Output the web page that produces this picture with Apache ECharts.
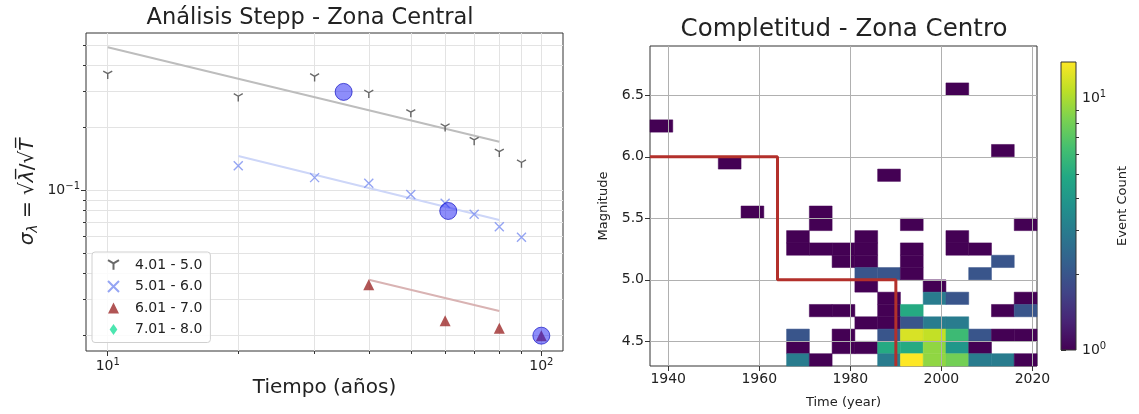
<!DOCTYPE html>
<html><head><meta charset="utf-8">
<script src="https://cdn.jsdelivr.net/npm/echarts@6/dist/echarts.min.js"></script>
<style>html,body{margin:0;padding:0;background:#fff}#c{width:1139px;height:414px}</style>
</head><body><div id="c"></div>
<script>
// ---------- Left panel: Stepp analysis ----------
const rangeNames = ['4.01 - 5.0', '5.01 - 6.0', '6.01 - 7.0', '7.01 - 8.0'];
const tM1 = [10, 20, 30, 40, 50, 60, 70, 80, 90];
const sM1 = [0.358, 0.279, 0.348, 0.290, 0.234, 0.200, 0.172, 0.151, 0.134];
const tM2 = [20, 30, 40, 50, 60, 70, 80, 90];
const sM2 = [0.131, 0.115, 0.108, 0.0953, 0.0866, 0.0767, 0.0668, 0.0594];
const tM3 = [40, 60, 80, 100];
const sM3 = [0.0351, 0.0236, 0.0217, 0.0200];
const tM4 = [];
const sM4 = [];
const fitT1 = [10, 80], fitS1 = [0.487, 0.171];
const fitT2 = [20, 80], fitS2 = [0.146, 0.072];
const fitT3 = [40, 80], fitS3 = [0.0371, 0.0263];
const complT = [35, 61, 100];
const complS = [0.297, 0.0795, 0.0200];
const leftXMajor = [10, 100];
const leftXMinor = [20, 30, 40, 50, 60, 70, 80, 90];
const leftYMajor = [0.1];
const leftYMinor = [0.02, 0.03, 0.04, 0.05, 0.06, 0.07, 0.08, 0.09, 0.2, 0.3, 0.4, 0.5];

// ---------- Right panel: completeness heatmap ----------
// [bin start year, bin start magnitude, event count]
const cells = [
  [1936, 6.2, 1], [1951, 5.9, 1], [1956, 5.5, 1], [1971, 5.5, 1], [1986, 5.8, 1],
  [2001, 6.5, 1], [2011, 6.0, 1],
  [1971, 5.4, 1], [1991, 5.4, 1], [2016, 5.4, 1],
  [1966, 5.3, 1], [1981, 5.3, 1], [2001, 5.3, 1],
  [1966, 5.2, 1], [1971, 5.2, 1], [1976, 5.2, 1], [1981, 5.2, 1], [1991, 5.2, 1], [2001, 5.2, 1], [2006, 5.2, 1],
  [1976, 5.1, 1], [1981, 5.1, 1], [1991, 5.1, 1], [2011, 5.1, 2],
  [1981, 5.0, 2], [1986, 5.0, 2], [1991, 5.0, 1], [2006, 5.0, 2],
  [1981, 4.9, 1], [1996, 4.9, 1],
  [1986, 4.8, 1], [1996, 4.8, 3], [2001, 4.8, 2], [2016, 4.8, 1],
  [1971, 4.7, 1], [1976, 4.7, 1], [1986, 4.7, 1], [1991, 4.7, 5], [2011, 4.7, 1], [2016, 4.7, 2],
  [1981, 4.6, 1], [1986, 4.6, 1], [1991, 4.6, 2], [1996, 4.6, 3], [2001, 4.6, 3],
  [1966, 4.5, 2], [1976, 4.5, 1], [1986, 4.5, 2], [1991, 4.5, 12], [1996, 4.5, 11], [2001, 4.5, 6], [2006, 4.5, 2], [2011, 4.5, 1], [2016, 4.5, 1],
  [1966, 4.4, 1], [1976, 4.4, 1], [1981, 4.4, 1], [1986, 4.4, 5], [1991, 4.4, 5], [1996, 4.4, 9], [2001, 4.4, 4], [2006, 4.4, 1],
  [1966, 4.3, 3], [1971, 4.3, 1], [1986, 4.3, 3], [1991, 4.3, 14], [1996, 4.3, 9], [2001, 4.3, 8], [2006, 4.3, 3], [2011, 4.3, 3], [2016, 4.3, 1]
];
const binYears = 5, binMag = 0.1;
const stepYears = [1936, 1964, 1964, 1990, 1990];
const stepMags = [6.0, 6.0, 5.0, 5.0, 4.3];
const rightXTicks = [1940, 1960, 1980, 2000, 2020];
const rightYTicks = [4.5, 5.0, 5.5, 6.0, 6.5];
const cbarMajor = [1, 10];
const cbarMinor = [2, 3, 4, 5, 6, 7, 8, 9];

// ---------- styling ----------
const FONT = 'DejaVu Sans';
const viridis = ['#440154', '#482475', '#414487', '#355f8d', '#2a788e', '#21918c', '#22a884', '#44bf70', '#7ad151', '#bddf26', '#fde725'];
const countMax = Math.max(...cells.map(c => c[2]));
const pairs = (xs, ys) => xs.map((x, i) => [x, ys[i]]);
const supRich = { sup: { fontSize: 10, fontFamily: FONT, color: '#222', padding: [0, 0, 8, 0] } };
const yPath = 'path://M50,50 L50,100 M50,50 L6.7,25 M50,50 L93.3,25';
const xPath = 'path://M0,0 L100,100 M100,0 L0,100';

const chart = echarts.init(document.getElementById('c'), null, { renderer: 'canvas' });

const gridLeft = { left: 86, top: 33, width: 477, height: 318, show: true, borderColor: '#333', borderWidth: 1 };
const gridHeat = { left: 650, top: 46, width: 387, height: 320, show: true, borderColor: '#333', borderWidth: 1 };
const gridCbar = { left: 1061, top: 62, width: 15, height: 288 };

const LX = { min: 8.91, max: 112.2 };
const LY = { min: 0.01688, max: 0.570 };

const option = {
  animation: false,
  backgroundColor: '#fff',
  textStyle: { fontFamily: FONT },
  grid: [gridLeft, gridHeat, gridCbar],
  graphic: [
    { type: 'text', x: 310, y: 18, style: { text: 'Análisis Stepp - Zona Central', font: '22.5px "DejaVu Sans"', fill: '#222', align: 'center', verticalAlign: 'middle' } },
    { type: 'text', x: 844, y: 30, style: { text: 'Completitud - Zona Centro', font: '24.5px "DejaVu Sans"', fill: '#222', align: 'center', verticalAlign: 'middle' } }
  ],
  legend: {
    data: rangeNames,
    orient: 'vertical', left: 92, top: 252,
    padding: [6, 8, 6, 15], itemGap: 7.5, itemWidth: 11, itemHeight: 11,
    backgroundColor: 'rgba(255,255,255,0.85)', borderColor: '#d0d0d0', borderWidth: 1, borderRadius: 3,
    textStyle: { fontSize: 14, fontFamily: FONT, color: '#222', padding: [0, 0, 0, 11] }
  },
  visualMap: {
    show: false, type: 'continuous', seriesIndex: 10, dimension: 3,
    min: 0, max: Math.log10(countMax), inRange: { color: viridis }
  },
  xAxis: [
    { gridIndex: 0, type: 'log', logBase: 10, min: LX.min, max: LX.max, position: 'bottom',
      name: 'Tiempo (años)', nameLocation: 'middle', nameGap: 27,
      nameTextStyle: { fontSize: 20, fontFamily: FONT, color: '#222' },
      axisLine: { show: false },
      axisTick: { customValues: leftXMajor, length: 5, lineStyle: { color: '#333' } },
      axisLabel: { customValues: leftXMajor, margin: 6, fontSize: 14, color: '#222', rich: supRich,
        formatter: v => '10{sup|' + Math.round(Math.log10(v)) + '}' },
      splitLine: { show: false }, minorTick: { show: false } },
    { gridIndex: 0, type: 'log', logBase: 10, min: LX.min, max: LX.max, position: 'bottom',
      axisLine: { show: false }, axisLabel: { show: false }, splitLine: { show: false },
      axisTick: { customValues: leftXMinor, length: 3, lineStyle: { color: '#333' } } },
    { gridIndex: 1, type: 'value', min: 1936, max: 2021,
      name: 'Time (year)', nameLocation: 'middle', nameGap: 30,
      nameTextStyle: { fontSize: 13, fontFamily: FONT, color: '#222' },
      axisLine: { show: false },
      axisTick: { customValues: rightXTicks, length: 5, lineStyle: { color: '#333' } },
      axisLabel: { customValues: rightXTicks, margin: 6, fontSize: 14, color: '#222', formatter: v => String(v) },
      splitLine: { show: false } },
    { gridIndex: 2, type: 'value', min: 0, max: 1, show: false }
  ],
  yAxis: [
    { gridIndex: 0, type: 'log', logBase: 10, min: LY.min, max: LY.max, position: 'left',
      name: '{i|σ}{sub|λ}{t| = √}{i|λ\u0305}{t|/√}{i|T\u0305}', nameLocation: 'middle', nameGap: 46, nameRotate: 90,
      nameTextStyle: { fontSize: 20, fontFamily: FONT, color: '#222',
        rich: {
          i: { fontSize: 20, fontStyle: 'italic', fontFamily: FONT, color: '#222' },
          t: { fontSize: 20, fontFamily: FONT, color: '#222' },
          sub: { fontSize: 14, fontStyle: 'italic', fontFamily: FONT, color: '#222', padding: [10, 0, 0, 0] }
        } },
      axisLine: { show: false },
      axisTick: { customValues: leftYMajor, length: 5, lineStyle: { color: '#333' } },
      axisLabel: { customValues: leftYMajor, margin: 6, fontSize: 14, color: '#222', rich: supRich,
        formatter: v => '10{sup|−' + Math.round(-Math.log10(v)) + '}' },
      splitLine: { show: false } },
    { gridIndex: 0, type: 'log', logBase: 10, min: LY.min, max: LY.max, position: 'left',
      axisLine: { show: false }, axisLabel: { show: false }, splitLine: { show: false },
      axisTick: { customValues: leftYMinor, length: 3, lineStyle: { color: '#333' } } },
    { gridIndex: 1, type: 'value', min: 4.3, max: 6.9,
      name: 'Magnitude', nameLocation: 'middle', nameGap: 40, nameRotate: 90,
      nameTextStyle: { fontSize: 13, fontFamily: FONT, color: '#222' },
      axisLine: { show: false },
      axisTick: { customValues: rightYTicks, length: 5, lineStyle: { color: '#333' } },
      axisLabel: { customValues: rightYTicks, margin: 6, fontSize: 14, color: '#222', formatter: v => v.toFixed(1) },
      splitLine: { show: false } },
    { gridIndex: 2, type: 'log', logBase: 10, min: 1, max: countMax, position: 'right',
      name: 'Event Count', nameLocation: 'middle', nameGap: 40, nameRotate: 90,
      nameTextStyle: { fontSize: 13, fontFamily: FONT, color: '#222' },
      axisLine: { show: false },
      axisTick: { customValues: cbarMajor, length: 5, lineStyle: { color: '#333' } },
      axisLabel: { customValues: cbarMajor, margin: 6, fontSize: 14, color: '#222', rich: supRich,
        formatter: v => '10{sup|' + Math.round(Math.log10(v)) + '}' },
      splitLine: { show: false } },
    { gridIndex: 2, type: 'log', logBase: 10, min: 1, max: countMax, position: 'right',
      axisLine: { show: false }, axisLabel: { show: false }, splitLine: { show: false },
      axisTick: { customValues: cbarMinor, length: 3, lineStyle: { color: '#333' } } }
  ],
  series: [
    // 0: left grid lines
    { type: 'line', name: 'gridL', xAxisIndex: 0, yAxisIndex: 0, data: [], silent: true,
      markLine: { silent: true, z: 1, symbol: ['none', 'none'], label: { show: false },
        lineStyle: { color: '#e3e3e3', width: 1, type: 'solid' }, emphasis: { disabled: true },
        data: leftXMajor.concat(leftXMinor).map(v => ({ xAxis: v }))
          .concat(leftYMajor.concat(leftYMinor).map(v => ({ yAxis: v }))) } },
    // 1-3 fits
    { type: 'line', name: 'fit1', xAxisIndex: 0, yAxisIndex: 0, data: pairs(fitT1, fitS1), symbol: 'none', silent: true, z: 2,
      lineStyle: { color: '#bdbdbd', width: 2 } },
    { type: 'line', name: 'fit2', xAxisIndex: 0, yAxisIndex: 0, data: pairs(fitT2, fitS2), symbol: 'none', silent: true, z: 2,
      lineStyle: { color: '#cdd6f8', width: 2 } },
    { type: 'line', name: 'fit3', xAxisIndex: 0, yAxisIndex: 0, data: pairs(fitT3, fitS3), symbol: 'none', silent: true, z: 2,
      lineStyle: { color: '#d9b3b3', width: 2 } },
    // 4-7 scatter groups
    { type: 'scatter', name: rangeNames[0], xAxisIndex: 0, yAxisIndex: 0, data: pairs(tM1, sM1), z: 3,
      symbol: yPath, symbolSize: 9, symbolKeepAspect: true,
      itemStyle: { color: 'rgba(0,0,0,0)', borderColor: '#444', borderWidth: 1.4 } },
    { type: 'scatter', name: rangeNames[1], xAxisIndex: 0, yAxisIndex: 0, data: pairs(tM2, sM2), z: 3,
      symbol: xPath, symbolSize: 9, symbolKeepAspect: true,
      itemStyle: { color: 'rgba(0,0,0,0)', borderColor: '#7b8ff0', borderWidth: 1.4 } },
    { type: 'scatter', name: rangeNames[2], xAxisIndex: 0, yAxisIndex: 0, data: pairs(tM3, sM3), z: 3,
      symbol: 'triangle', symbolSize: 11, itemStyle: { color: '#9e2a2b' } },
    { type: 'scatter', name: rangeNames[3], xAxisIndex: 0, yAxisIndex: 0, data: pairs(tM4, sM4), z: 3,
      symbol: 'path://M50,0 L85,50 L50,100 L15,50 Z', symbolSize: 12, symbolKeepAspect: true, itemStyle: { color: '#1fe09c' } },
    // 8: completeness circles
    { type: 'scatter', name: 'compl', xAxisIndex: 0, yAxisIndex: 0, data: pairs(complT, complS), z: 5,
      symbol: 'circle', symbolSize: 17, silent: true,
      itemStyle: { color: 'rgba(25,25,245,0.62)', borderColor: 'rgba(0,0,190,0.8)', borderWidth: 1 } },
    // 9: right grid lines (above cells)
    { type: 'line', name: 'gridR', xAxisIndex: 2, yAxisIndex: 2, data: [], silent: true, z: 3,
      markLine: { silent: true, z: 3, symbol: ['none', 'none'], label: { show: false },
        lineStyle: { color: '#b0b0b0', width: 1, type: 'solid' }, emphasis: { disabled: true },
        data: rightXTicks.map(v => ({ xAxis: v })).concat(rightYTicks.map(v => ({ yAxis: v }))) } },
    // 10: heatmap
    { type: 'custom', name: 'heat', xAxisIndex: 2, yAxisIndex: 2, z: 2, silent: true,
      dimensions: ['year', 'mag', 'count', 'logc'], encode: { x: 0, y: 1 },
      data: cells.map(c => [c[0], c[1], c[2], Math.log10(c[2])]),
      renderItem: function (params, api) {
        const x = api.value(0), y = api.value(1);
        const a = api.coord([x, y]);
        const b = api.coord([x + binYears, y + binMag]);
        const col = api.visual('color');
        return { type: 'rect', shape: { x: a[0], y: b[1], width: b[0] - a[0], height: a[1] - b[1] },
          style: { fill: col, stroke: col, lineWidth: 0.5 } };
      } },
    // 11: completeness step line
    { type: 'line', name: 'step', xAxisIndex: 2, yAxisIndex: 2, data: pairs(stepYears, stepMags), z: 4,
      symbol: 'none', silent: true, lineStyle: { color: '#b3302b', width: 3 } },
    // 12: colorbar
    { type: 'custom', name: 'cbar', xAxisIndex: 3, yAxisIndex: 3, silent: true, z: 2,
      data: [[0, 1, 1, countMax]],
      renderItem: function (params, api) {
        const a = api.coord([api.value(0), api.value(1)]);
        const b = api.coord([api.value(2), api.value(3)]);
        return { type: 'rect', shape: { x: a[0], y: b[1], width: b[0] - a[0], height: a[1] - b[1] },
          style: { fill: { type: 'linear', x: 0, y: 1, x2: 0, y2: 0,
            colorStops: viridis.map((c, i) => ({ offset: i / (viridis.length - 1), color: c })) },
            stroke: '#333', lineWidth: 1 } };
      } }
  ]
};
chart.setOption(option);
</script></body></html>
